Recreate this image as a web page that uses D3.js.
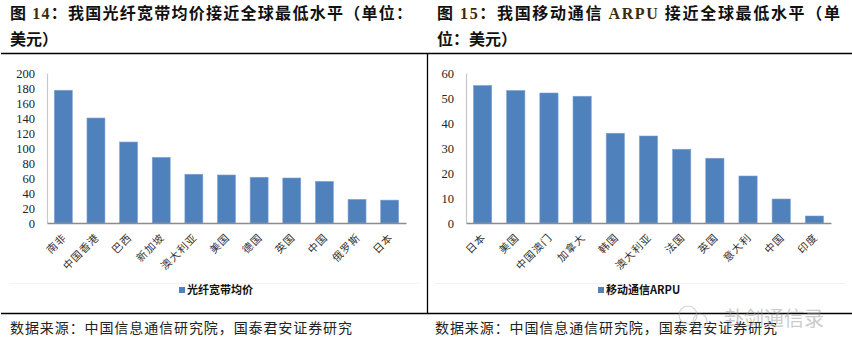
<!DOCTYPE html>
<html><head><meta charset="utf-8">
<script src="https://cdn.jsdelivr.net/npm/d3@7"></script>
<style>body{margin:0;background:#fff}svg{display:block}</style>
</head><body>
<svg id="c" width="852" height="357"></svg>
<script>
const fiberCategories = ["南非","中国香港","巴西","新加坡","澳大利亚","美国","德国","英国","中国","俄罗斯","日本"];
const fiberValues = [177,140,108,87.5,65,64,61,60,55.5,31.5,30.5];
const fiberTicks = [0,20,40,60,80,100,120,140,160,180,200];
const fiberLegend = "光纤宽带均价";

const arpuCategories = ["日本","美国","中国澳门","加拿大","韩国","澳大利亚","法国","英国","意大利","中国","印度"];
const arpuValues = [55,53,52,50.7,35.9,34.8,29.5,25.9,18.8,9.6,2.8];
const arpuTicks = [0,10,20,30,40,50,60];
const arpuLegend = "移动通信ARPU";

const sourceText = "数据来源：中国信息通信研究院，国泰君安证券研究";

const svg = d3.select("#c");
const CJK = "'Noto Sans CJK SC','Noto Sans',sans-serif";
const SERIF = "'Liberation Serif','DejaVu Serif',serif";
const BAR = "#4f81bd";

// frame lines
svg.append("line").attr("x1",1).attr("x2",852).attr("y1",53.5).attr("y2",53.5).attr("stroke","#000").attr("stroke-width",1.3);
svg.append("line").attr("x1",1).attr("x2",852).attr("y1",313.5).attr("y2",313.5).attr("stroke","#000").attr("stroke-width",1.3);
svg.append("line").attr("x1",427.5).attr("x2",427.5).attr("y1",53).attr("y2",314).attr("stroke","#000").attr("stroke-width",1.3);

function title(x, lines, width1) {
  const g = svg.append("g");
  lines.forEach((parts, i) => {
    const t = g.append("text").attr("x", x).attr("y", 19 + i*26)
      .attr("font-family", CJK).attr("font-weight", 700).attr("font-size", 16).attr("fill", "#111");
    if (i === 0) t.attr("textLength", width1).attr("lengthAdjust", "spacing");
    parts.forEach(p => {
      const s = t.append("tspan").text(p.t);
      if (p.serif) s.attr("font-family", SERIF).attr("fill", "#3d2a0a");
    });
  });
}
title(10, [[{t:"图 "},{t:"14",serif:true},{t:"：我国光纤宽带均价接近全球最低水平（单位："}],[{t:"美元）"}]], 402);
title(437, [[{t:"图 "},{t:"15",serif:true},{t:"：我国移动通信 "},{t:"ARPU",serif:true},{t:" 接近全球最低水平（单"}],[{t:"位：美元）"}]], 403);

function chart(o) {
  const g = svg.append("g");
  const x = d3.scaleBand().domain(o.cats).range([o.x0, o.x1]).paddingInner(0.45).paddingOuter(0.225);
  const y = d3.scaleLinear().domain([0, o.max]).range([o.yZero, o.yTop]);

  // faint plot border line
  g.append("line").attr("x1", o.fx0).attr("x2", o.fx1).attr("y1", 283.5).attr("y2", 283.5).attr("stroke", "#f2f2f2");

  const ya = g.append("g").attr("transform", `translate(${o.x0},0)`)
    .call(d3.axisLeft(y).tickValues(o.ticks).tickSize(0).tickPadding(12));
  ya.select(".domain").attr("stroke", "#c8c8c8").attr("stroke-width", 1.2);
  ya.selectAll("text").attr("font-family", SERIF).attr("font-size", 12.5).attr("fill", "#222");

  g.selectAll("rect.bar").data(o.vals).join("rect").attr("class","bar")
    .attr("x", (d,i) => x(o.cats[i])).attr("width", x.bandwidth())
    .attr("y", d => y(d)).attr("height", d => y(0) - y(d))
    .attr("fill", BAR).attr("stroke", "#7da3d3").attr("stroke-width", 0.6);

  const xa = g.append("g").attr("transform", `translate(0,${o.yZero})`)
    .call(d3.axisBottom(x).tickSize(0).tickPadding(0));
  xa.select(".domain").attr("stroke", "#8c8c8c").attr("stroke-width", 1.3);
  xa.selectAll("text").attr("font-family", CJK).attr("font-size", 10.5).attr("fill", "#333")
    .attr("letter-spacing", 1)
    .attr("text-anchor", "end").attr("dy", null).attr("y", null)
    .attr("transform", "translate(4,15) rotate(-45)");

  // legend
  g.append("rect").attr("x", o.lx).attr("y", 287).attr("width", 6).attr("height", 6).attr("fill", BAR);
  g.append("text").attr("x", o.lx + 8).attr("y", 294).attr("font-family", CJK).attr("font-weight", 700)
    .attr("font-size", 11).attr("fill", "#111").text(o.legend);

  // source
  g.append("text").attr("x", o.sx).attr("y", 333).attr("font-family", CJK).attr("font-size", 14)
    .attr("fill", "#222").attr("textLength", 342).attr("lengthAdjust", "spacing").text(sourceText);
}

chart({cats: fiberCategories, vals: fiberValues, ticks: fiberTicks, max: 200,
  x0: 47, x1: 406, yZero: 223, yTop: 73, lx: 179, legend: fiberLegend, sx: 10, fx0: 10, fx1: 420});
chart({cats: arpuCategories, vals: arpuValues, ticks: arpuTicks, max: 60,
  x0: 466, x1: 831, yZero: 223, yTop: 73, lx: 598, legend: arpuLegend, sx: 435, fx0: 435, fx1: 845});

// watermark (overlaps the source line, as in the reference)
const wm = svg.append("g").attr("opacity", 0.5);
wm.append("circle").attr("cx", 688).attr("cy", 315).attr("r", 9).attr("fill", "none").attr("stroke", "#aaa").attr("stroke-width", 1.2);
wm.append("circle").attr("cx", 700).attr("cy", 321).attr("r", 7).attr("fill", "none").attr("stroke", "#aaa").attr("stroke-width", 1.2);
wm.append("text").attr("x", 724).attr("y", 326).attr("font-family", CJK).attr("font-size", 20)
  .attr("fill", "#999").text("卦剑通信录");
</script>
</body></html>
